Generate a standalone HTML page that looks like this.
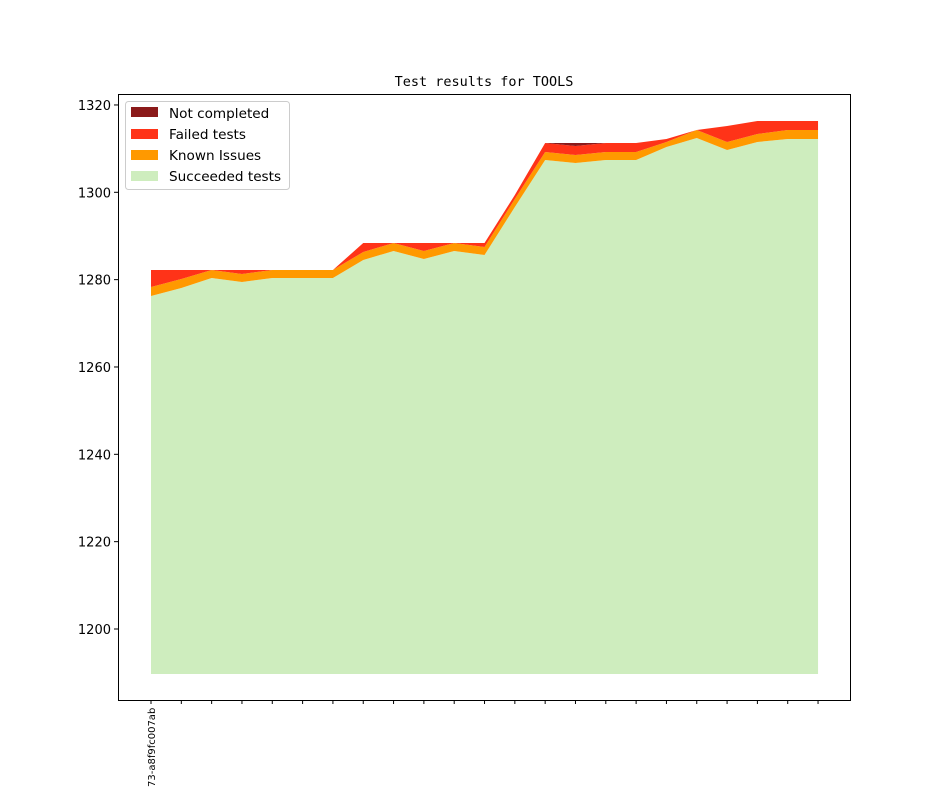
<!DOCTYPE html>
<html><head><meta charset="utf-8"><style>
body{margin:0;background:#fff;}
svg{display:block;font-family:"DejaVu Sans","Liberation Sans",sans-serif;}
</style></head><body>
<svg id="s" width="944" height="787" xmlns="http://www.w3.org/2000/svg">
<rect width="944" height="787" fill="#fff"/>
<g id="areas"></g>
<rect x="118.5" y="94.5" width="732" height="606" fill="none" stroke="#000" stroke-width="1"/>
<g id="ticks" font-size="13" fill="#000"></g>
<text x="484" y="86" text-anchor="middle" font-family="'DejaVu Sans Mono','Liberation Mono',monospace" font-size="13.5">Test results for TOOLS</text>
<text transform="translate(155,787) rotate(-90)" font-size="10">73-a8f9fc007ab</text>
<g>
<rect x="125.5" y="101.5" width="164" height="88" rx="3" fill="#fff" fill-opacity="0.85" stroke="#ccc"/>
<rect x="131" y="107" width="27" height="10" fill="#8b1a1a"/>
<rect x="131" y="129" width="27" height="10" fill="#ff3318"/>
<rect x="131" y="150" width="27" height="10" fill="#ff9900"/>
<rect x="131" y="171" width="27" height="10" fill="#ceedbe"/>
<text x="169" y="118" font-size="13.6">Not completed</text>
<text x="169" y="139" font-size="13.6">Failed tests</text>
<text x="169" y="160" font-size="13.6">Known Issues</text>
<text x="169" y="181" font-size="13.6">Succeeded tests</text>
</g>
</svg>
<script>
var X=[];for(var i=0;i<23;i++)X.push(151+i*30.32);
var S=[296,288,278,282,278,278,278,260,251,259,251,255,207,160,163,160,160,147,138,150,142,139,139];
var K=[287,279,270,274,270,270,270,252,243,251,243,247,199,152,155,152,152,142,130,142,134,130,130];
var F=[270,270,270,270,270,270,270,243,243,243,243,243,195,143,146,143,143,139,130,126,121,121,121];
var N=F.slice();N[13]=143;N[14]=143;N[15]=143;
function poly(top,bot,col){var p=[];for(var i=0;i<23;i++)p.push(X[i]+','+top[i]);for(var i=22;i>=0;i--)p.push(X[i]+','+(bot?bot[i]:674));return '<polygon points="'+p.join(' ')+'" fill="'+col+'"/>';}
document.getElementById('areas').innerHTML=poly(S,null,'#ceedbe')+poly(K,S,'#ff9900')+poly(F,K,'#ff3318')+poly(N,F,'#8b1a1a');
var t='';
for(var v=1200;v<=1320;v+=20){var y=629-(v-1200)*4.367;t+='<line x1="114" x2="118" y1="'+y+'" y2="'+y+'" stroke="#000"/><text x="111" y="'+(y+5)+'" text-anchor="end">'+v+'</text>';}
for(var i=0;i<23;i++){t+='<line x1="'+X[i]+'" x2="'+X[i]+'" y1="700" y2="704" stroke="#000"/>';}
document.getElementById('ticks').innerHTML=t;
</script>
</body></html>
